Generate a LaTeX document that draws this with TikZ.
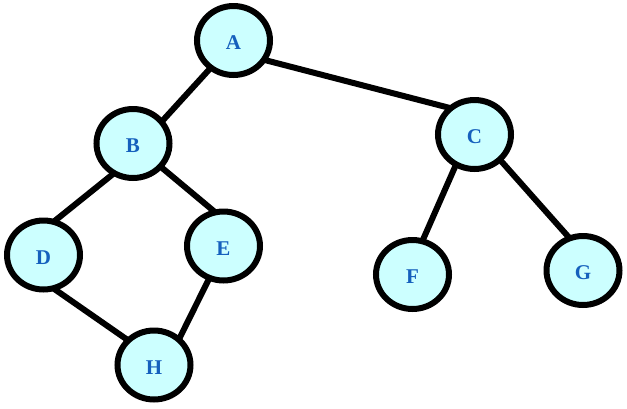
\documentclass[tikz,border=0pt]{standalone}
\usepackage{fontspec}
\setmainfont{Liberation Serif}
\usetikzlibrary{shapes.geometric}
\definecolor{nodefill}{HTML}{CCFFFF}
\definecolor{labelblue}{HTML}{1560BD}
\pgfdeclarelayer{bg}
\pgfsetlayers{bg,main}
\begin{document}
\begin{tikzpicture}[x=1pt,y=-1pt,
  vertex/.style={ellipse,draw=black,line width=6pt,fill=nodefill,
    minimum width=73pt,minimum height=69pt,inner sep=0pt,
    text height=18pt,text depth=0pt,
    text=labelblue,font=\fontsize{21}{21}\selectfont\bfseries},
  link/.style={line width=6pt,black,shorten <=-4pt,shorten >=-4pt}]
\useasboundingbox (0,0) rectangle (627,408);
\node[vertex] (A) at (233.5,40.5) {A};
\node[vertex] (B) at (133,143.5) {B};
\node[vertex] (C) at (474.5,134.5) {C};
\node[vertex] (D) at (43.5,255) {D};
\node[vertex] (E) at (223.5,246) {E};
\node[vertex] (F) at (412.5,274.5) {F};
\node[vertex] (G) at (583,270.5) {G};
\node[vertex] (H) at (154,365) {H};
\begin{pgfonlayer}{bg}
\draw[link] (A.230.7) -- (B.38);
\draw[link] (A.329.8) -- (C.135);
\draw[link] (B.236.3) -- (D.70.8);
\draw[link] (B.320.4) -- (E.107.7);
\draw[link] (D.290) -- (H.137.2);
\draw[link] (E.246.7) -- (H.47);
\draw[link] (C.239) -- (F.73);
\draw[link] (C.315) -- (G.114);
\end{pgfonlayer}
\end{tikzpicture}
\end{document}
